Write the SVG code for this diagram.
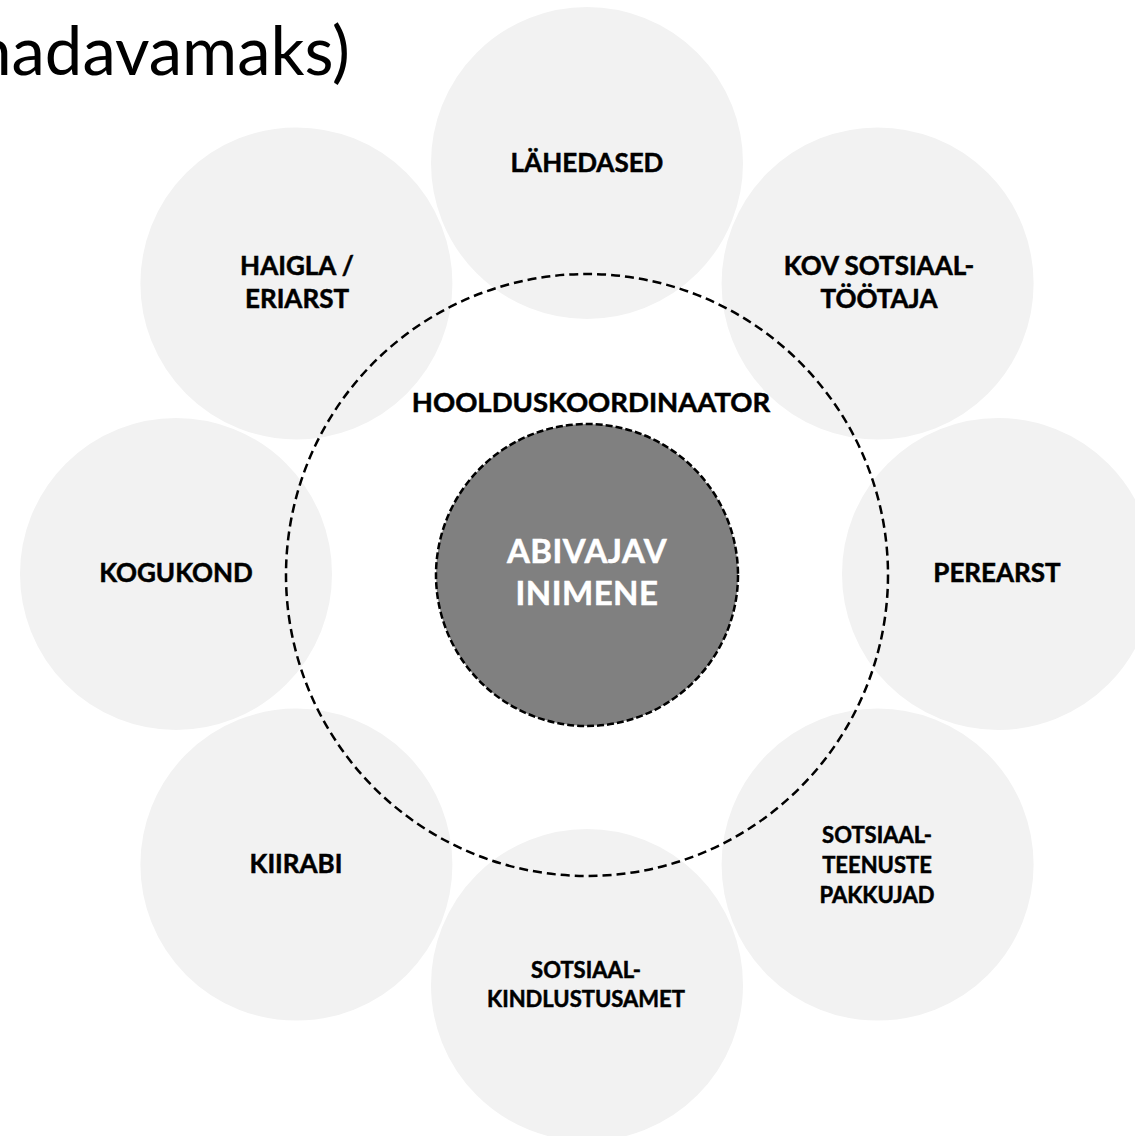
<svg xmlns="http://www.w3.org/2000/svg" width="1135" height="1136" viewBox="0 0 1135 1136">
<style>
.node{fill:#f2f2f2;stroke:#ffffff;stroke-width:2}
.lbl{font-family:Lato,"Open Sans",sans-serif;font-weight:bold;font-size:26px;fill:#000;stroke:#000;stroke-width:0.5;text-anchor:middle}
.sm{font-size:22px}
.ring{fill:none;stroke:#000;stroke-width:2.5;stroke-dasharray:9 5}
.inv{fill:#ffffff;stroke:#ffffff;font-size:33px;letter-spacing:0.5px}
</style>
<rect width="1135" height="1136" fill="#ffffff"/>
<text x="350" y="75" font-family="Lato,'Open Sans',sans-serif" font-size="67" text-anchor="end" fill="#000">nadavamaks)</text>
<g id="n-lahedased"><circle class="node" cx="587" cy="163" r="157"/><text class="lbl" x="587" y="172">LÄHEDASED</text></g>
<g id="n-kov"><circle class="node" cx="877.6" cy="283.4" r="157"/><text class="lbl" x="879" y="275">KOV SOTSIAAL-</text><text class="lbl" x="879" y="308">TÖÖTAJA</text></g>
<g id="n-perearst"><circle class="node" cx="998" cy="574" r="157"/><text class="lbl" x="997" y="582">PEREARST</text></g>
<g id="n-sotsteenused"><circle class="node" cx="877.6" cy="864.6" r="157"/><text class="lbl sm" x="877" y="843">SOTSIAAL-</text><text class="lbl sm" x="877" y="873">TEENUSTE</text><text class="lbl sm" x="877" y="903">PAKKUJAD</text></g>
<g id="n-ska"><circle class="node" cx="587" cy="985" r="157"/><text class="lbl sm" x="586" y="978">SOTSIAAL-</text><text class="lbl sm" x="586" y="1007">KINDLUSTUSAMET</text></g>
<g id="n-kiirabi"><circle class="node" cx="296.4" cy="864.6" r="157"/><text class="lbl" x="296" y="873">KIIRABI</text></g>
<g id="n-kogukond"><circle class="node" cx="176" cy="574" r="157"/><text class="lbl" x="176" y="582">KOGUKOND</text></g>
<g id="n-haigla"><circle class="node" cx="296.4" cy="283.4" r="157"/><text class="lbl" x="297" y="275">HAIGLA /</text><text class="lbl" x="297" y="308">ERIARST</text></g>
<g id="connectors"><circle class="ring" cx="587" cy="575" r="301"/></g>
<g id="n-koordinaator"><text class="lbl" x="591" y="412" style="font-size:27.5px">HOOLDUSKOORDINAATOR</text></g>
<g id="n-abivajav"><circle cx="587" cy="575" r="151" fill="#808080" stroke="#000" stroke-width="2.5" stroke-dasharray="7 3"/><text class="lbl inv" x="587" y="563">ABIVAJAV</text><text class="lbl inv" x="587" y="605">INIMENE</text></g>
</svg>
